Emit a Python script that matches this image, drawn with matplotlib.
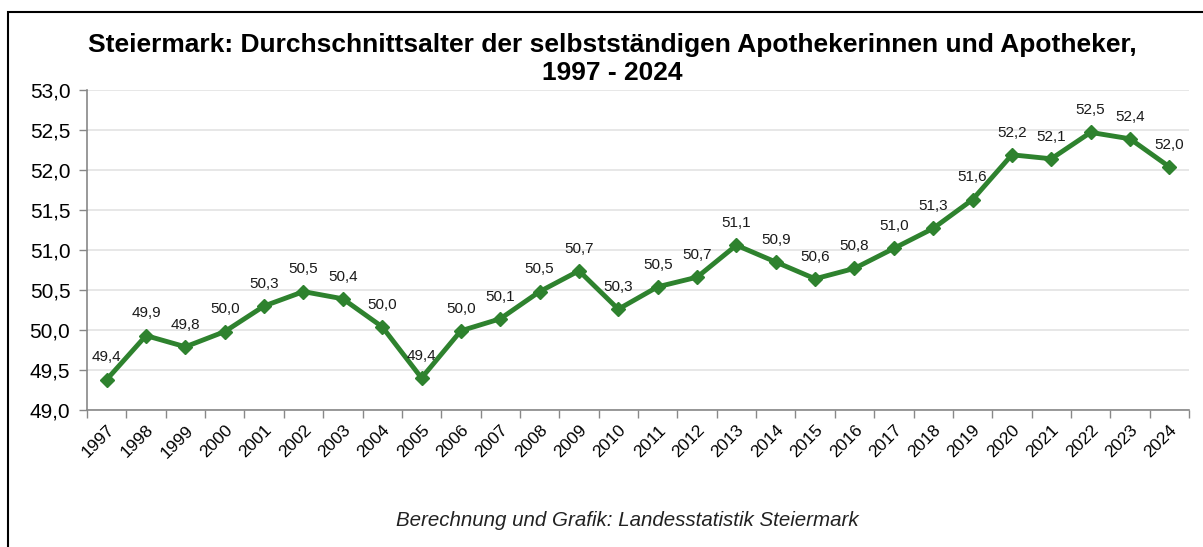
import matplotlib
matplotlib.use("Agg")
import matplotlib.pyplot as plt
from matplotlib.patches import Rectangle
from matplotlib.ticker import FixedLocator, FuncFormatter

plt.rcParams['font.family'] = ['Liberation Sans', 'DejaVu Sans']

years = list(range(1997, 2025))
avg_age = [49.38, 49.93, 49.79, 49.98, 50.30, 50.48, 50.39, 50.04, 49.40, 49.99,
           50.14, 50.48, 50.74, 50.26, 50.54, 50.66, 51.06, 50.85, 50.64, 50.77,
           51.02, 51.27, 51.63, 52.19, 52.14, 52.47, 52.39, 52.04]
labels = ["49,4", "49,9", "49,8", "50,0", "50,3", "50,5", "50,4", "50,0", "49,4", "50,0",
          "50,1", "50,5", "50,7", "50,3", "50,5", "50,7", "51,1", "50,9", "50,6", "50,8",
          "51,0", "51,3", "51,6", "52,2", "52,1", "52,5", "52,4", "52,0"]

title = "Steiermark: Durchschnittsalter der selbstständigen Apothekerinnen und Apotheker,\n1997 - 2024"
source = "Berechnung und Grafik: Landesstatistik Steiermark"

green = '#2e822e'

fig = plt.figure(figsize=(12.03, 5.47), dpi=100)
fig.patches.append(Rectangle((8 / 1203, -0.05), 1.1, 1 - 12 / 547 + 0.05,
                             transform=fig.transFigure, fill=False,
                             edgecolor='black', linewidth=1.5))

ax = fig.add_axes([87 / 1203, 1 - 410 / 547, (1189 - 87) / 1203, (410 - 90) / 547])
x = list(range(len(years)))
ax.plot(x, avg_age, color=green, linewidth=3.5, marker='D', markersize=7.5,
        markeredgecolor=green, markerfacecolor=green, zorder=3)

for xi, yi, lab in zip(x, avg_age, labels):
    ax.annotate(lab, (xi, yi), xytext=(0, 11), textcoords='offset points',
                ha='center', va='bottom', fontsize=11, color='#1a1a1a')

ax.set_xlim(-0.5, len(years) - 0.5)
ax.set_ylim(49, 53)
ax.set_yticks([49 + 0.5 * i for i in range(9)])
ax.yaxis.set_major_formatter(FuncFormatter(lambda v, p: f"{v:.1f}".replace('.', ',')))
ax.grid(axis='y', color='#e3e3e3', linewidth=1.2)
ax.set_axisbelow(True)

ax.set_xticks(x)
ax.set_xticklabels([str(y) for y in years], rotation=45, ha='right',
                   rotation_mode='anchor', fontsize=12.5)
ax.xaxis.set_minor_locator(FixedLocator([i - 0.5 for i in range(len(years) + 1)]))
ax.tick_params(axis='x', which='major', length=0, pad=9)
ax.tick_params(axis='x', which='minor', length=6, color='#888888', width=1)
ax.tick_params(axis='y', length=6, color='#888888', width=1, labelsize=15, pad=6)

for s in ['top', 'right']:
    ax.spines[s].set_visible(False)
for s in ['left', 'bottom']:
    ax.spines[s].set_color('#888888')
    ax.spines[s].set_linewidth(1.2)

fig.text(0.509, 1 - 59 / 547, title, ha='center', va='center', fontsize=19,
         fontweight='bold', linespacing=1.25)
fig.text(627 / 1203, 1 - 520 / 547, source, ha='center', va='center',
         fontsize=14.8, style='italic', color='#222222')

fig.savefig('out.png', dpi=100)
